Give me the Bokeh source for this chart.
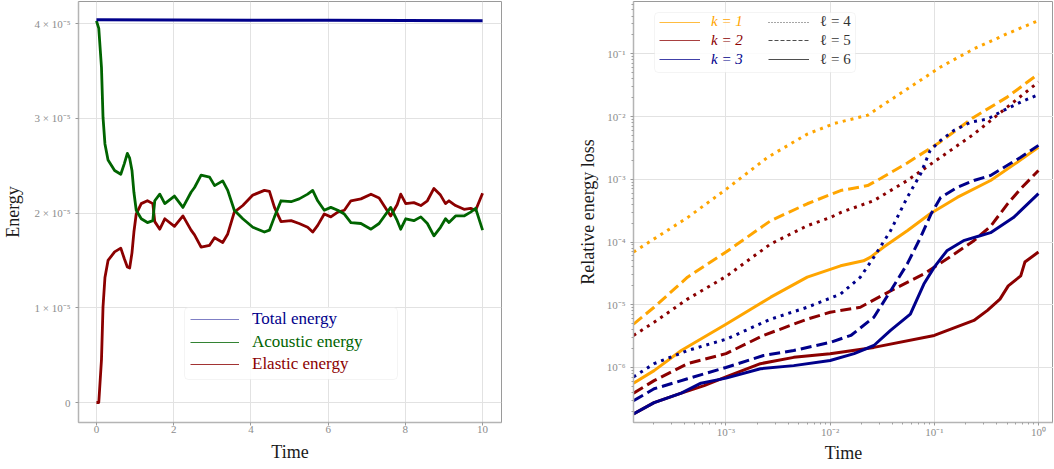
from bokeh.plotting import figure
from bokeh.models import Range1d, FixedTicker, Legend, LegendItem, BoxAnnotation
from bokeh.layouts import row
from bokeh.embed import file_html
from bokeh.resources import INLINE

SERIF = "Liberation Serif"
TICK_COLOR = "#8c8c8c"
C_TOTAL = "#00008B"
C_ACOUSTIC = "#006400"
C_ELASTIC = "#8B0000"
C_K1 = "#FFA500"
C_K2 = "#8B0000"
C_K3 = "#00008B"

# ---------------- left panel: energies (values in units of 1e-5) ----------------
E_UNIT = 1e-5
TIME_TOTAL = [0, 2, 4, 6, 8, 10]
TOTAL_E5 = [4.040, 4.039, 4.037, 4.035, 4.033, 4.031]

TIME_SPLIT = [0.0, 0.06, 0.13, 0.17, 0.22, 0.30, 0.47, 0.63, 0.72, 0.80, 0.86, 0.92, 0.97,
              1.03, 1.16, 1.32, 1.46, 1.51, 1.64, 1.77, 2.02, 2.24, 2.45, 2.54, 2.71, 2.93,
              3.06, 3.27, 3.40, 3.57, 3.79, 4.05, 4.35, 4.48, 4.61, 4.78, 5.04, 5.25, 5.47,
              5.60, 5.73, 5.90, 6.07, 6.25, 6.42, 6.59, 6.85, 7.11, 7.32, 7.62, 7.79, 7.88,
              8.01, 8.22, 8.40, 8.57, 8.74, 8.91, 9.04, 9.13, 9.30, 9.52, 9.69, 9.82, 10.0]
ACOUSTIC_E5 = [4.03, 3.95, 3.54, 3.01, 2.73, 2.56, 2.45, 2.41, 2.52, 2.63, 2.58, 2.45, 2.22,
               2.03, 1.94, 1.90, 1.92, 2.13, 2.20, 2.10, 2.18, 2.06, 2.22, 2.27, 2.40, 2.38,
               2.29, 2.34, 2.24, 2.03, 1.94, 1.85, 1.80, 1.82, 1.96, 2.13, 2.12, 2.15, 2.20,
               2.24, 2.13, 2.03, 2.06, 2.03, 1.99, 1.90, 1.89, 1.83, 1.89, 2.06, 1.92, 1.83,
               1.94, 1.92, 1.96, 1.89, 1.76, 1.85, 1.94, 1.90, 1.97, 1.97, 2.01, 2.05, 1.82]
ELASTIC_E5 = [0.00, 0.00, 0.45, 1.01, 1.32, 1.50, 1.59, 1.63, 1.52, 1.43, 1.42, 1.58, 1.80,
              1.99, 2.10, 2.13, 2.10, 1.91, 1.83, 1.94, 1.86, 1.97, 1.82, 1.77, 1.64, 1.66,
              1.74, 1.69, 1.78, 2.01, 2.08, 2.19, 2.24, 2.23, 2.06, 1.91, 1.92, 1.89, 1.85,
              1.80, 1.87, 1.99, 1.96, 2.01, 2.03, 2.13, 2.15, 2.20, 2.16, 1.97, 2.09, 2.20,
              2.10, 2.11, 2.08, 2.13, 2.26, 2.19, 2.10, 2.13, 2.08, 2.04, 2.05, 2.03, 2.21]

ENERGY_XTICKS = [0, 2, 4, 6, 8, 10]
ENERGY_YTICKS_E5 = [0, 1, 2, 3, 4]
ENERGY_YTICK_LABELS = ["0", "1 × 10⁻⁵", "2 × 10⁻⁵", "3 × 10⁻⁵", "4 × 10⁻⁵"]
ENERGY_LEGEND = ["Total energy", "Acoustic energy", "Elastic energy"]

# ---------------- right panel: relative energy loss ----------------
T_K1_L4 = [1.294e-4, 4.27e-4, 1.02e-3, 2.51e-3, 6.03e-3, 1.10e-2, 2.29e-2, 3.31e-2, 5.50e-2, 0.115, 0.240, 0.501, 1.0]
V_K1_L4 = [6.92e-5, 2.45e-4, 7.08e-4, 2.24e-3, 5.25e-3, 7.76e-3, 1.05e-2, 1.58e-2, 2.75e-2, 6.17e-2, 0.120, 0.209, 0.339]
T_K1_L5 = [1.294e-4, 2.04e-4, 4.27e-4, 1.0e-3, 2.69e-3, 6.03e-3, 1.26e-2, 2.29e-2, 3.02e-2, 5.50e-2, 0.115, 0.240, 0.501, 1.0]
V_K1_L5 = [4.90e-6, 9.12e-6, 2.75e-5, 6.92e-5, 2.19e-4, 4.07e-4, 6.61e-4, 7.94e-4, 1.02e-3, 1.82e-3, 3.98e-3, 9.77e-3, 2.04e-2, 4.79e-2]
T_K1_L6 = [1.294e-4, 2.04e-4, 3.72e-4, 1.0e-3, 2.69e-3, 6.03e-3, 1.26e-2, 2.09e-2, 2.45e-2, 3.27e-2, 5.50e-2, 9.12e-2, 0.166, 0.347, 0.676, 1.0]
V_K1_L6 = [5.62e-7, 8.91e-7, 1.86e-6, 4.90e-6, 1.32e-5, 2.75e-5, 4.17e-5, 5.01e-5, 5.75e-5, 8.32e-5, 1.51e-4, 2.82e-4, 5.13e-4, 9.55e-4, 2.04e-3, 3.24e-3]

T_K2_L4 = [1.294e-4, 2.04e-4, 4.27e-4, 1.0e-3, 2.69e-3, 6.03e-3, 1.0e-2, 1.26e-2, 2.63e-2, 5.50e-2, 0.115, 0.240, 0.501, 1.0]
V_K2_L4 = [3.24e-6, 5.25e-6, 1.23e-5, 2.82e-5, 9.33e-5, 1.82e-4, 2.45e-4, 2.95e-4, 4.57e-4, 9.55e-4, 2.24e-3, 5.25e-3, 1.41e-2, 3.55e-2]
T_K2_L5 = [1.294e-4, 2.04e-4, 4.27e-4, 1.0e-3, 2.29e-3, 6.03e-3, 1.0e-2, 1.95e-2, 3.80e-2, 7.94e-2, 0.141, 0.240, 0.347, 0.501, 0.676, 1.0]
V_K2_L5 = [3.89e-7, 6.17e-7, 1.15e-6, 1.66e-6, 3.24e-6, 5.89e-6, 7.59e-6, 9.12e-6, 1.66e-5, 3.09e-5, 5.75e-5, 1.05e-4, 1.78e-4, 3.98e-4, 7.08e-4, 1.38e-3]
T_K2_L6 = [1.294e-4, 2.04e-4, 3.72e-4, 6.17e-4, 1.0e-3, 2.14e-3, 4.47e-3, 1.0e-2, 2.63e-2, 0.1, 0.240, 0.324, 0.427, 0.513, 0.676, 0.741, 1.0]
V_K2_L6 = [1.82e-7, 2.75e-7, 3.89e-7, 5.13e-7, 7.08e-7, 1.15e-6, 1.45e-6, 1.66e-6, 2.09e-6, 3.24e-6, 5.62e-6, 8.13e-6, 1.23e-5, 2.00e-5, 2.88e-5, 4.79e-5, 6.92e-5]

T_K3_L4 = [1.294e-4, 2.04e-4, 4.27e-4, 1.0e-3, 2.69e-3, 6.03e-3, 1.26e-2, 1.95e-2, 2.63e-2, 3.80e-2, 5.50e-2, 7.41e-2, 9.12e-2, 0.115, 0.155, 0.224, 0.324, 0.427, 0.676, 1.0]
V_K3_L4 = [7.08e-7, 1.15e-6, 1.86e-6, 2.82e-6, 5.89e-6, 9.12e-6, 1.48e-5, 2.75e-5, 5.75e-5, 1.51e-4, 5.13e-4, 1.23e-3, 2.88e-3, 4.17e-3, 6.03e-3, 8.13e-3, 9.12e-3, 1.17e-2, 1.70e-2, 2.24e-2]
T_K3_L5 = [1.294e-4, 2.04e-4, 4.27e-4, 1.0e-3, 2.29e-3, 4.47e-3, 1.0e-2, 1.58e-2, 1.82e-2, 2.63e-2, 3.80e-2, 5.50e-2, 7.41e-2, 9.33e-2, 0.115, 0.166, 0.240, 0.347, 0.676, 1.0]
V_K3_L5 = [2.95e-7, 4.57e-7, 6.61e-7, 1.0e-6, 1.55e-6, 1.86e-6, 2.51e-6, 3.24e-6, 3.89e-6, 6.31e-6, 1.66e-5, 4.47e-5, 1.20e-4, 2.82e-4, 5.13e-4, 7.41e-4, 9.55e-4, 1.15e-3, 2.24e-3, 3.47e-3]
T_K3_L6 = [1.294e-4, 2.04e-4, 3.72e-4, 5.75e-4, 1.0e-3, 2.14e-3, 4.47e-3, 1.0e-2, 1.70e-2, 2.63e-2, 3.80e-2, 5.89e-2, 7.94e-2, 0.1, 0.132, 0.191, 0.275, 0.347, 0.575, 1.0]
V_K3_L6 = [1.82e-7, 2.75e-7, 3.89e-7, 5.62e-7, 6.76e-7, 9.55e-7, 1.07e-6, 1.29e-6, 1.66e-6, 2.24e-6, 3.89e-6, 7.08e-6, 2.14e-5, 3.98e-5, 7.24e-5, 1.05e-4, 1.26e-4, 1.41e-4, 2.45e-4, 5.89e-4]

LOSS_XTICKS = [1e-3, 1e-2, 1e-1, 1.0]
LOSS_XTICK_LABELS = ["10⁻³", "10⁻²", "10⁻¹", "10⁰"]
LOSS_YTICKS = [1e-6, 1e-5, 1e-4, 1e-3, 1e-2, 1e-1]
LOSS_YTICK_LABELS = ["10⁻⁶", "10⁻⁵", "10⁻⁴", "10⁻³", "10⁻²", "10⁻¹"]
K_LABELS = ["k = 1", "k = 2", "k = 3"]
L_LABELS = ["ℓ = 4", "ℓ = 5", "ℓ = 6"]

DOT = "3 5"
DASH = "11 5"


def style(p):
    p.background_fill_color = "white"
    p.border_fill_color = "white"
    p.outline_line_color = "#9a9a9a"
    p.outline_line_width = 1
    p.grid.grid_line_color = "#e2e2e2"
    p.grid.grid_line_width = 1
    for ax in (p.xaxis[0], p.yaxis[0]):
        ax.axis_line_color = "#b4b4b4"
        ax.axis_line_width = 1.5
        ax.major_tick_line_color = "#9a9a9a"
        ax.major_tick_out = 3
        ax.major_tick_in = 0
        ax.major_label_text_font = SERIF
        ax.major_label_text_font_size = "11px"
        ax.major_label_text_color = TICK_COLOR
        ax.axis_label_text_font = SERIF
        ax.axis_label_text_font_size = "18px"
        ax.axis_label_text_font_style = "normal"
        ax.axis_label_text_color = "#1a1a1a"
    p.xaxis[0].major_label_standoff = 0


def add_item(p, proxy, label, color, vx, vcenter, glyph_w, standoff, size, font_style, h):
    leg = Legend(items=[LegendItem(label=label, renderers=[proxy])],
                 location=(vx, vcenter - h / 2), orientation="vertical",
                 padding=0, margin=0, spacing=0,
                 glyph_width=glyph_w, glyph_height=h, label_height=h,
                 label_standoff=standoff,
                 label_text_font=SERIF, label_text_font_size=size,
                 label_text_font_style=font_style, label_text_color=color,
                 border_line_alpha=0, background_fill_alpha=0)
    p.add_layout(leg, "center")


def screen_box(left, right, bottom, top):
    return BoxAnnotation(left=left, right=right, bottom=bottom, top=top,
                         left_units="screen", right_units="screen",
                         bottom_units="screen", top_units="screen",
                         fill_color="white", fill_alpha=0.85,
                         line_color="#d9d9d9", line_width=1, border_radius=4)


# ---------------- left figure ----------------
p1 = figure(width=546, height=468, output_backend="svg", toolbar_location=None,
            x_range=Range1d(-0.465, 10.49), y_range=Range1d(-0.211e-5, 4.234e-5),
            min_border_left=77, min_border_right=45, min_border_top=1, min_border_bottom=46)
style(p1)
p1.xaxis[0].axis_label = "Time"
p1.yaxis[0].axis_label = "Energy"
p1.xaxis[0].axis_label_standoff = 6
p1.yaxis[0].axis_label_standoff = 8
p1.xaxis[0].ticker = FixedTicker(ticks=ENERGY_XTICKS)
ytick_vals = [v * E_UNIT for v in ENERGY_YTICKS_E5]
p1.yaxis[0].ticker = FixedTicker(ticks=ytick_vals)
p1.yaxis[0].major_label_overrides = {v: s for v, s in zip(ytick_vals, ENERGY_YTICK_LABELS)}
for ax in (p1.xaxis[0], p1.yaxis[0]):
    ax.minor_tick_line_color = None
p1.xgrid.ticker = FixedTicker(ticks=ENERGY_XTICKS)
p1.ygrid.ticker = FixedTicker(ticks=ytick_vals)

elastic = [v * E_UNIT for v in ELASTIC_E5]
acoustic = [v * E_UNIT for v in ACOUSTIC_E5]
total = [v * E_UNIT for v in TOTAL_E5]
p1.line(TIME_SPLIT, elastic, line_color=C_ELASTIC, line_width=2.8, line_join="round")
p1.line(TIME_SPLIT, acoustic, line_color=C_ACOUSTIC, line_width=2.8, line_join="round")
p1.line(TIME_TOTAL, total, line_color=C_TOTAL, line_width=3, line_join="round")

p1.add_layout(screen_box(106, 319, 43, 115), "center")
left_rows = [102.7, 80.3, 57.7]
for label, color, alpha, vc, src in zip(ENERGY_LEGEND, [C_TOTAL, C_ACOUSTIC, C_ELASTIC], [0.5, 0.8, 0.8],
                                        left_rows, [total, acoustic, elastic]):
    proxy = p1.line(x=[TIME_SPLIT[-1]], y=[src[-1]], line_color=color, line_width=1.2, line_alpha=alpha)
    add_item(p1, proxy, label, color, 112, vc, 49, 13, "17px", "normal", 22)

# ---------------- right figure ----------------
p2 = figure(width=507, height=468, output_backend="svg", toolbar_location=None,
            x_axis_type="log", y_axis_type="log",
            x_range=Range1d(1.294e-4, 1.395), y_range=Range1d(1.327e-7, 0.682),
            min_border_left=87, min_border_right=0, min_border_top=1, min_border_bottom=46)
style(p2)
p2.xaxis[0].axis_label = "Time"
p2.yaxis[0].axis_label = "Relative energy loss"
p2.xaxis[0].axis_label_standoff = 2
p2.yaxis[0].axis_label_standoff = 6
p2.yaxis[0].major_label_standoff = 5
minor_x = [m * 10.0 ** e for e in range(-4, 1) for m in range(2, 10)]
minor_y = [m * 10.0 ** e for e in range(-7, 0) for m in range(2, 10)]
p2.xaxis[0].ticker = FixedTicker(ticks=LOSS_XTICKS, minor_ticks=minor_x)
p2.yaxis[0].ticker = FixedTicker(ticks=LOSS_YTICKS, minor_ticks=minor_y)
p2.xaxis[0].major_label_overrides = {v: s for v, s in zip(LOSS_XTICKS, LOSS_XTICK_LABELS)}
p2.yaxis[0].major_label_overrides = {v: s for v, s in zip(LOSS_YTICKS, LOSS_YTICK_LABELS)}
p2.xgrid.ticker = FixedTicker(ticks=LOSS_XTICKS)
p2.ygrid.ticker = FixedTicker(ticks=LOSS_YTICKS)
for ax in (p2.xaxis[0], p2.yaxis[0]):
    ax.minor_tick_line_color = "#a0a0a0"
    ax.minor_tick_out = 2
    ax.minor_tick_in = 0

series = [
    (T_K1_L4, V_K1_L4, C_K1, DOT), (T_K1_L5, V_K1_L5, C_K1, DASH), (T_K1_L6, V_K1_L6, C_K1, "solid"),
    (T_K2_L4, V_K2_L4, C_K2, DOT), (T_K2_L5, V_K2_L5, C_K2, DASH), (T_K2_L6, V_K2_L6, C_K2, "solid"),
    (T_K3_L4, V_K3_L4, C_K3, DOT), (T_K3_L5, V_K3_L5, C_K3, DASH), (T_K3_L6, V_K3_L6, C_K3, "solid"),
]
for t, v, c, dash in series:
    p2.line(t, v, line_color=c, line_width=3, line_dash=dash, line_join="round")

p2.add_layout(screen_box(21, 222, 350, 410), "center")
right_rows = [400.3, 382.0, 362.7]
for label, color, vc, (t, v, _, _) in zip(K_LABELS, [C_K1, C_K2, C_K3], right_rows, series[2::3]):
    proxy = p2.line(x=[t[-1]], y=[v[-1]], line_color=color, line_width=1.2, line_alpha=0.75)
    add_item(p2, proxy, label, color, 26, vc, 41, 11, "15px", "italic", 18)
for label, dash, vc, (t, v, _, _) in zip(L_LABELS, ["1 2", "4 2", "solid"], right_rows, series[6:9]):
    proxy = p2.line(x=[t[-1]], y=[v[-1]], line_color="#222222", line_width=1.2, line_alpha=0.8, line_dash=dash)
    add_item(p2, proxy, label, "#333333", 135, vc, 41, 11, "15px", "normal", 18)

layout = row(p1, p2)
open("out.html", "w").write(file_html(layout, INLINE))
